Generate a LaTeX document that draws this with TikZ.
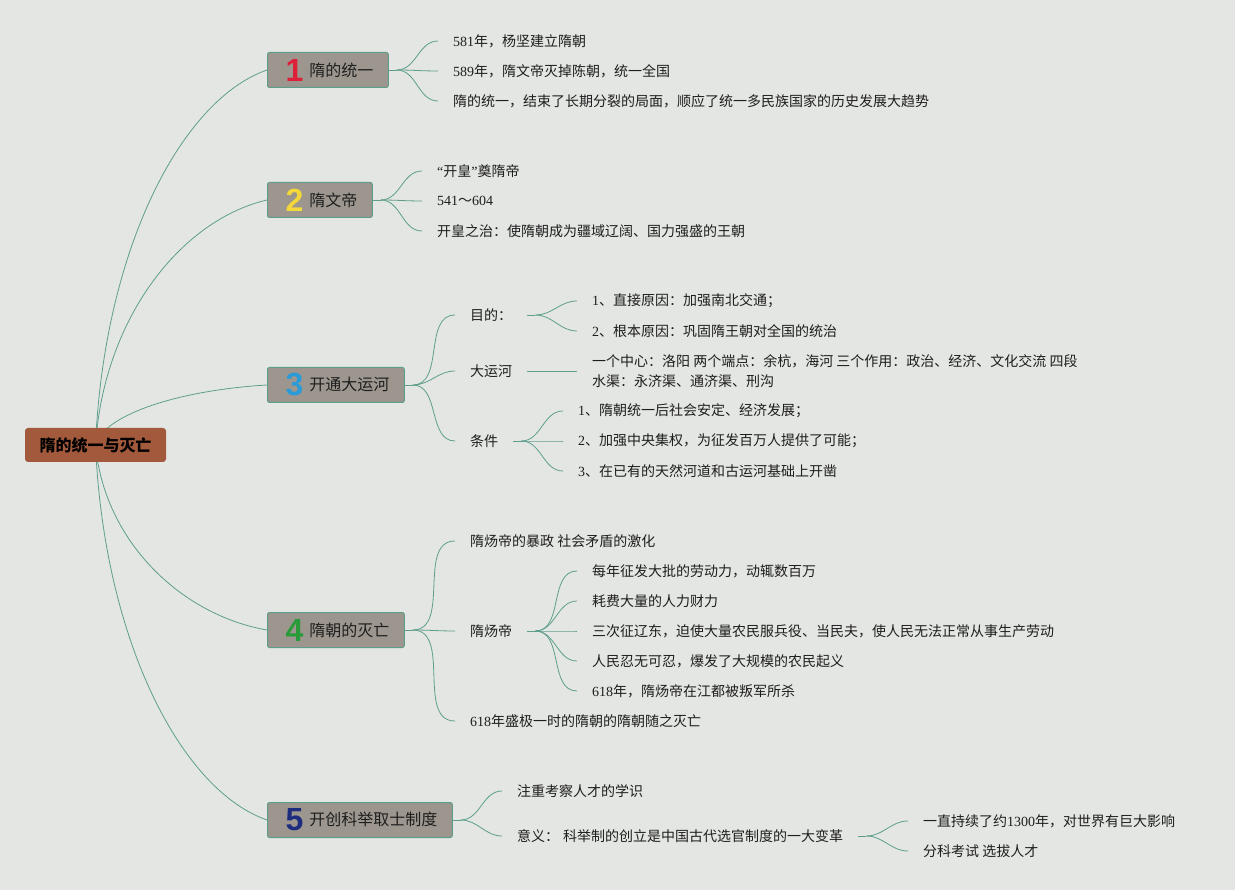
\documentclass[tikz,border=0pt]{standalone}
\usepackage{fontspec}
\setmainfont{Noto Sans CJK SC}
\newfontfamily\latn{Liberation Serif}
\newfontfamily\numsans{Liberation Sans}
\usetikzlibrary{backgrounds}

\definecolor{bgcol}{HTML}{E3E6E2}
\definecolor{rootcol}{HTML}{A35A3C}
\definecolor{topiccol}{HTML}{9C968E}
\definecolor{topicline}{HTML}{5E9E88}
\definecolor{edgecol}{HTML}{5E9F8C}
\definecolor{txtcol}{HTML}{1E1E1E}
\definecolor{numred}{HTML}{DD1F3A}
\definecolor{numyellow}{HTML}{F4D83A}
\definecolor{numblue}{HTML}{2B9BD8}
\definecolor{numgreen}{HTML}{2A9A3A}
\definecolor{numnavy}{HTML}{1E2C80}

\newcommand{\tnum}[2]{\hspace{3pt}\raisebox{-5pt}{\numsans\bfseries\fontsize{32}{32}\selectfont\color{#1}#2}\hspace{6pt}}
\newcommand{\dg}[1]{{\latn #1}}

\begin{document}
\begin{tikzpicture}[x=1pt,y=-1pt,
  edge/.style={draw=edgecol,line width=.8pt},
  sbend/.style={out=0,in=180},
  rootbox/.style={fill=rootcol,rounded corners=3pt,minimum width=141pt,minimum height=34pt,font=\fontsize{16}{16}\selectfont\bfseries,text=black},
  topicbox/.style={anchor=west,fill=topiccol,draw=topicline,line width=1pt,rounded corners=2pt,minimum height=35pt,inner xsep=15pt,font=\fontsize{16}{16}\selectfont,text=txtcol},
  leaf/.style={anchor=west,inner xsep=15pt,inner ysep=2pt,font=\fontsize{14}{20}\selectfont,text=txtcol,align=left}]
\useasboundingbox (0,0) rectangle (1235,890);

\node[rootbox] (root) at (95.5,445) {隋的统一与灭亡};

\node[topicbox] (t1) at (267,70) {\tnum{numred}{1}隋的统一};
\node[topicbox] (t2) at (267,200) {\tnum{numyellow}{2}隋文帝};
\node[topicbox] (t3) at (267,385) {\tnum{numblue}{3}开通大运河};
\node[topicbox] (t4) at (267,630) {\tnum{numgreen}{4}隋朝的灭亡};
\node[topicbox] (t5) at (267,820) {\tnum{numnavy}{5}开创科举取士制度};

\node[leaf] (a1) at (438,41) {\dg{581}年，杨坚建立隋朝};
\node[leaf] (a2) at (438,71) {\dg{589}年，隋文帝灭掉陈朝，统一全国};
\node[leaf] (a3) at (438,101) {隋的统一，结束了长期分裂的局面，顺应了统一多民族国家的历史发展大趋势};

\node[leaf] (b1) at (422,171) {\dg{“}开皇\dg{”}奠隋帝};
\node[leaf] (b2) at (422,201) {\dg{541}～\dg{604}};
\node[leaf] (b3) at (422,231) {开皇之治：使隋朝成为疆域辽阔、国力强盛的王朝};

\node[leaf] (c1) at (455,315) {目的：};
\node[leaf] (c2) at (455,371) {大运河};
\node[leaf] (c3) at (455,441) {条件};
\node[leaf] (c11) at (577,301) {\dg{1}、直接原因：加强南北交通；};
\node[leaf] (c12) at (577,331) {\dg{2}、根本原因：巩固隋王朝对全国的统治};
\node[leaf] (c21) at (577,371) {一个中心：洛阳 两个端点：余杭，海河 三个作用：政治、经济、文化交流 四段\\水渠：永济渠、通济渠、刑沟};
\node[leaf] (c31) at (563,411) {\dg{1}、隋朝统一后社会安定、经济发展；};
\node[leaf] (c32) at (563,441) {\dg{2}、加强中央集权，为征发百万人提供了可能；};
\node[leaf] (c33) at (563,471) {\dg{3}、在已有的天然河道和古运河基础上开凿};

\node[leaf] (d1) at (455,541) {隋炀帝的暴政 社会矛盾的激化};
\node[leaf] (d2) at (455,631) {隋炀帝};
\node[leaf] (d3) at (455,721) {\dg{618}年盛极一时的隋朝的隋朝随之灭亡};
\node[leaf] (d21) at (577,571) {每年征发大批的劳动力，动辄数百万};
\node[leaf] (d22) at (577,601) {耗费大量的人力财力};
\node[leaf] (d23) at (577,631) {三次征辽东，迫使大量农民服兵役、当民夫，使人民无法正常从事生产劳动};
\node[leaf] (d24) at (577,661) {人民忍无可忍，爆发了大规模的农民起义};
\node[leaf] (d25) at (577,691) {\dg{618}年，隋炀帝在江都被叛军所杀};

\node[leaf] (e1) at (502,791) {注重考察人才的学识};
\node[leaf] (e2) at (502,836) {意义：\hspace{4pt}科举制的创立是中国古代选官制度的一大变革};
\node[leaf] (e21) at (908,821) {一直持续了约\dg{1300}年，对世界有巨大影响};
\node[leaf] (e22) at (908,851) {分科考试 选拔人才};

\begin{scope}[on background layer]
\fill[bgcol] (0,0) rectangle (1235,890);
\draw[edge] (root.center) .. controls (104,250) and (181,100) .. (t1.west);
\draw[edge] (root.center) .. controls (104,318) and (181,220) .. (t2.west);
\draw[edge] (root.center) .. controls (104,414) and (181,390) .. (t3.west);
\draw[edge] (root.center) .. controls (104,541) and (181,615) .. (t4.west);
\draw[edge] (root.center) .. controls (104,640) and (181,790) .. (t5.west);

\draw[edge] (t1.east) -- ++(8,0) coordinate (j1);
\foreach \n in {a1,a2,a3} \draw[edge] (j1) to[sbend] (\n.west);
\draw[edge] (t2.east) -- ++(8,0) coordinate (j2);
\foreach \n in {b1,b2,b3} \draw[edge] (j2) to[sbend] (\n.west);
\draw[edge] (t3.east) -- ++(8,0) coordinate (j3);
\foreach \n in {c1,c2,c3} \draw[edge] (j3) to[sbend] (\n.west);
\draw[edge] (c1.east) -- ++(8,0) coordinate (j31);
\foreach \n in {c11,c12} \draw[edge] (j31) to[sbend] (\n.west);
\draw[edge] (c2.east) -- (c21.west);
\draw[edge] (c3.east) -- ++(8,0) coordinate (j33);
\foreach \n in {c31,c32,c33} \draw[edge] (j33) to[sbend] (\n.west);
\draw[edge] (t4.east) -- ++(8,0) coordinate (j4);
\foreach \n in {d1,d2,d3} \draw[edge] (j4) to[sbend] (\n.west);
\draw[edge] (d2.east) -- ++(8,0) coordinate (j42);
\foreach \n in {d21,d22,d23,d24,d25} \draw[edge] (j42) to[sbend] (\n.west);
\draw[edge] (t5.east) -- ++(8,0) coordinate (j5);
\foreach \n in {e1,e2} \draw[edge] (j5) to[sbend] (\n.west);
\draw[edge] (e2.east) -- ++(8,0) coordinate (j52);
\foreach \n in {e21,e22} \draw[edge] (j52) to[sbend] (\n.west);
\end{scope}
\end{tikzpicture}
\end{document}
